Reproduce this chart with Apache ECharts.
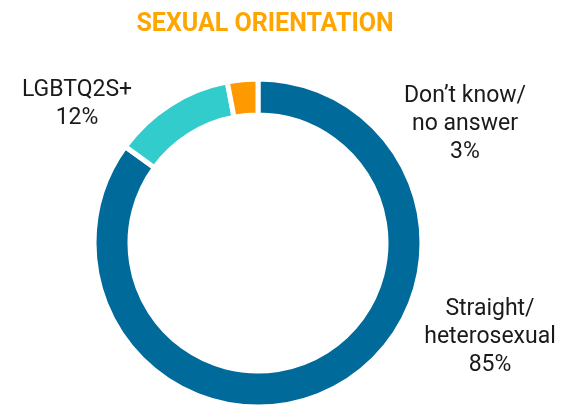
<!DOCTYPE html>
<html><head><meta charset="utf-8">
<script src="https://cdn.jsdelivr.net/npm/echarts@6/dist/echarts.min.js"></script>
<style>html,body{margin:0;padding:0;background:#fff}#c{width:581px;height:406px}</style>
</head><body><div id="c"></div>
<script>
const categories = ['Straight/\nheterosexual', 'LGBTQ2S+', 'Don\u2019t know/\nno answer'];
const values = [85, 12, 3];
const colors = ['#006A9B', '#33CCCC', '#FF9900'];
const labelPos = [[490, 337], [77, 104], [465, 124]];

const chart = echarts.init(document.getElementById('c'), null, {renderer: 'canvas'});
chart.setOption({
  animation: false,
  title: {
    text: 'SEXUAL ORIENTATION', left: 260, top: 7, textAlign: 'center',
    textStyle: {color: '#FFA500', fontFamily: 'Roboto', fontWeight: 'bold', fontSize: 25}
  },
  series: [{
    type: 'pie',
    center: [258, 243],
    radius: [128, 164],
    startAngle: 90,
    clockwise: true,
    data: categories.map((n, i) => ({name: n, value: values[i], itemStyle: {color: colors[i]}})),
    itemStyle: {borderColor: '#fff', borderWidth: 5},
    label: {
      show: true, position: 'outside',
      formatter: p => p.name + '\n' + p.value + '%',
      fontFamily: 'Roboto', fontSize: 23, color: '#1a1a1a', lineHeight: 28, align: 'center',
      overflow: 'none', width: 300
    },
    labelLine: {show: false},
    labelLayout: p => ({x: labelPos[p.dataIndex][0], y: labelPos[p.dataIndex][1], align: 'center', verticalAlign: 'middle'})
  }]
});
</script></body></html>
